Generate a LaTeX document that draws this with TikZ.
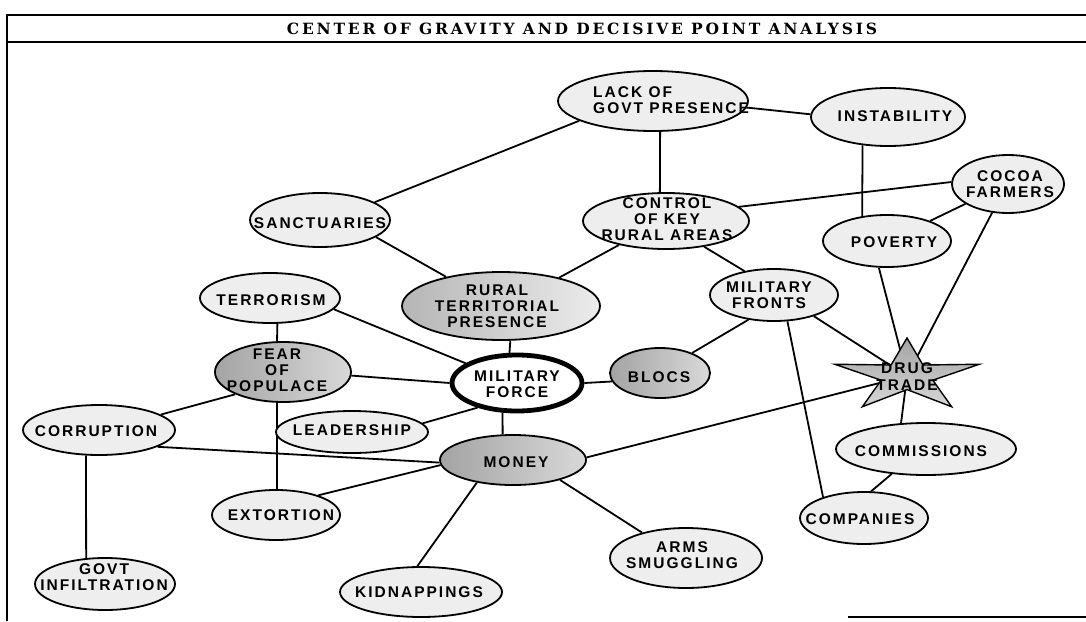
\documentclass[tikz,border=0pt]{standalone}
\usepackage{fontspec}
\setmainfont{Liberation Sans}
\newfontfamily\nodefont{Liberation Sans}[LetterSpace=13]
\newfontfamily\titlefont{DejaVu Serif}[LetterSpace=18]
\usetikzlibrary{shapes.geometric}
\pgfdeclarelayer{background}
\pgfsetlayers{background,main}
\tikzset{
  bub/.style={ellipse, draw, line width=1.8pt, fill=gray!13, inner sep=0pt},
  darkbub/.style={bub, left color=gray!72, right color=gray!30},
  semibub/.style={bub, left color=gray!58, right color=gray!15},
  sz/.style 2 args={minimum width=#1pt, minimum height=#2pt},
  lbl/.style={align=center, font=\nodefont\bfseries\fontsize{15.5}{16}\selectfont, inner sep=0pt},
  conn/.style={line width=1.8pt},
  frameline/.style={line width=1.6pt},
}
\begin{document}
\begin{tikzpicture}[x=1pt,y=-1pt]
\useasboundingbox (0,0) rectangle (1086,621);
% frame
\draw[frameline] (7,621) -- (7,15) -- (1086,15);
\draw[frameline] (7,42) -- (1086,42);
\draw[frameline] (848,617) -- (1086,617);
\node[font=\titlefont\bfseries\fontsize{15.5}{16}\selectfont, inner sep=0pt] (title) at (582,28.5) {CENTER OF GRAVITY AND DECISIVE POINT ANALYSIS};
% nodes
\node[bub, sz={190}{60}] (lack) at (653,101) {};
\node[lbl, align=left, anchor=west] (lackT) at (593,100) {LACK OF\\GOVT PRESENCE};
\node[bub, sz={154}{58}] (inst) at (888,117) {};
\node[lbl] (instT) at (895,116) {INSTABILITY};
\node[bub, sz={112}{58}] (cocoa) at (1008,184) {};
\node[lbl] (cocoaT) at (1010,184) {COCOA\\FARMERS};
\node[bub, sz={166}{56}] (ctrl) at (666,221) {};
\node[lbl] (ctrlT) at (667,219) {CONTROL\\OF KEY\\RURAL AREAS};
\node[bub, sz={128}{52}] (pov) at (887,241) {};
\node[lbl] (povT) at (894,242) {POVERTY};
\node[bub, sz={128}{52}] (milfr) at (774,295) {};
\node[lbl] (milfrT) at (769,295) {MILITARY\\FRONTS};
\node[bub, sz={140}{54}] (sanct) at (320,220) {};
\node[lbl] (sanctT) at (320,223) {SANCTUARIES};
\node[bub, sz={140}{50}] (terr) at (270,298) {};
\node[lbl] (terrT) at (271,300) {TERRORISM};
\node[semibub, sz={198}{68}] (rural) at (501,306) {};
\node[lbl] (ruralT) at (497,306) {RURAL\\TERRITORIAL\\PRESENCE};
\node[bub, fill=white, line width=4.8pt, sz={130}{56}] (mf) at (517,383) {};
\node[lbl] (mfT) at (517,384) {MILITARY\\FORCE};
\node[darkbub, sz={100}{50}] (blocs) at (660,373) {};
\node[lbl] (blocsT) at (659,377) {BLOCS};
\node[darkbub, sz={136}{60}] (fear) at (283,372) {};
\node[lbl] (fearT) at (277,370) {FEAR\\OF\\POPULACE};
\node[bub, sz={152}{50}] (corr) at (99,430) {};
\node[lbl] (corrT) at (96,431) {CORRUPTION};
\node[bub, sz={152}{42}] (lead) at (352,432) {};
\node[lbl] (leadT) at (352,430) {LEADERSHIP};
\node[darkbub, sz={146}{50}] (money) at (513,460) {};
\node[lbl] (moneyT) at (516,462) {MONEY};
\node[bub, sz={128}{50}] (ext) at (276,515) {};
\node[lbl] (extT) at (281,515) {EXTORTION};
\node[bub, sz={140}{52}] (govt) at (105,584) {};
\node[lbl] (govtT) at (104,577) {GOVT\\INFILTRATION};
\node[bub, sz={162}{50}] (kidn) at (421,592) {};
\node[lbl] (kidnT) at (419,592) {KIDNAPPINGS};
\node[bub, sz={152}{60}] (arms) at (686,558) {};
\node[lbl] (armsT) at (682,555) {ARMS\\SMUGGLING};
\node[bub, sz={180}{52}] (comm) at (926,449) {};
\node[lbl] (commT) at (921,451) {COMMISSIONS};
\node[bub, sz={128}{52}] (comp) at (864,518) {};
\node[lbl] (compT) at (860,519) {COMPANIES};
\node[star, star points=5, star point ratio=2.8, draw, line width=1.4pt,
      top color=gray!72, bottom color=gray!32, minimum size=76pt, inner sep=0pt,
      xscale=2.0, transform shape] (drug) at (907,376) {};
\node[lbl, font=\nodefont\bfseries\fontsize{15.5}{17}\selectfont] (drugT) at (907,377) {DRUG\\TRADE};
% connectors
\begin{pgfonlayer}{background}
\draw[conn] (lack.-165) -- (sanct.18);
\draw[conn] (lack.-4) -- (inst.178);
\draw[conn] (lack.-77) -- (ctrl.102);
\draw[conn] (inst.-132) -- (pov.135);
\draw[conn] (cocoa.178) -- (ctrl.11);
\draw[conn] (cocoa.-155) -- (pov.25);
\draw[conn] (cocoa.-119) -- (drug.center);
\draw[conn] (pov.-107) -- (drug.center);
\draw[conn] (sanct.-17) -- (rural.152);
\draw[conn] (ctrl.-153) -- (rural.26);
\draw[conn] (ctrl.-34) -- (milfr.141);
\draw[conn] (terr.-74) -- (fear.101);
\draw[conn] (terr.-10) -- (mf.159);
\draw[conn] (rural.-75) -- (mf.104);
\draw[conn] (fear.-3) -- (mf.180);
\draw[conn] (fear.-155) -- (corr.14);
\draw[conn] (fear.-101) -- (ext.88);
\draw[conn] (mf.-148) -- (lead.7);
\draw[conn] (mf.-116) -- (money.112);
\draw[conn] (mf.0) -- (blocs.190);
\draw[conn] (blocs.32) -- (milfr.-136);
\draw[conn] (milfr.-28) -- (drug.center);
\draw[conn] (milfr.-63) -- (comp.153);
\draw[conn] (corr.-16) -- (money.182);
\draw[conn] (corr.-117) -- (govt.126);
\draw[conn] (money.184) -- (ext.25);
\draw[conn] (money.-148) -- (kidn.98);
\draw[conn] (money.-23) -- (arms.150);
\draw[conn] (money.2) -- (drug.center);
\draw[conn] (comm.134) -- (drug.center);
\draw[conn] (comm.-144) -- (comp.75);
\end{pgfonlayer}
\end{tikzpicture}
\end{document}
